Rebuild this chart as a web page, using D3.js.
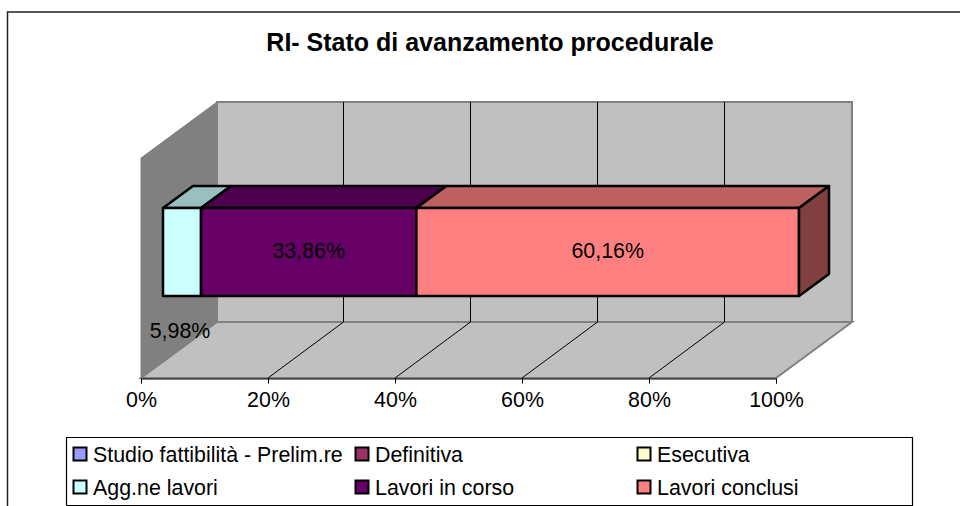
<!DOCTYPE html>
<html>
<head>
<meta charset="utf-8">
<script src="https://cdn.jsdelivr.net/npm/d3@7"></script>
<style>
  html, body { margin: 0; padding: 0; background: #fff; }
  text { font-family: "Liberation Sans", Arial, sans-serif; fill: #000; }
</style>
</head>
<body>
<div id="chart"></div>
<script>
const chartTitle = "RI- Stato di avanzamento procedurale";
const seriesNames = ["Studio fattibilità - Prelim.re", "Definitiva", "Esecutiva", "Agg.ne lavori", "Lavori in corso", "Lavori conclusi"];
const seriesValues = [0, 0, 0, 5.98, 33.86, 60.16];
const seriesLabels = ["", "", "", "5,98%", "33,86%", "60,16%"];
const seriesColors = ["#9999ff", "#993366", "#ffffcc", "#ccffff", "#660066", "#ff8080"];
const tickValues = [0, 20, 40, 60, 80, 100];

const labelSize = 21.4;

const svg = d3.select("#chart").append("svg")
    .attr("width", 960)
    .attr("height", 506)
    .style("display", "block");

// frame: only top and left are inside the picture
svg.append("path")
    .attr("d", "M7.5,506V12H960")
    .attr("fill", "none")
    .attr("stroke", "#222")
    .attr("stroke-width", 1.5);

svg.append("text")
    .attr("x", 490)
    .attr("y", 51)
    .attr("text-anchor", "middle")
    .attr("font-size", 25)
    .attr("font-weight", "bold")
    .text(chartTitle);

// front plane of the floor, and the depth offsets of the fake 3d
const x = d3.scaleLinear().domain([0, 100]).range([141, 776]);
const floorY = 378;
const wallH = 220;
const depth = { dx: 76, dy: -56 };
const barShift = { dx: 22, dy: -16 };
const barDepth = { dx: 30, dy: -22 };
const barFront = d3.scaleLinear().domain([0, 100]).range([x(0) + barShift.dx, x(100) + barShift.dx + 1]);
const barTop = 208;
const barBottom = 296;

const poly = pts => "M" + pts.map(p => p.join(",")).join("L") + "Z";

// left wall
svg.append("path")
    .attr("d", poly([[x(0), floorY], [x(0), floorY - wallH], [x(0) + depth.dx, floorY - wallH + depth.dy], [x(0) + depth.dx, floorY + depth.dy]]))
    .attr("fill", "#808080")
    .attr("stroke", "#808080");

// back wall
svg.append("rect")
    .attr("x", x(0) + depth.dx)
    .attr("y", floorY - wallH + depth.dy)
    .attr("width", x(100) - x(0))
    .attr("height", wallH)
    .attr("fill", "#c0c0c0")
    .attr("stroke", "#808080")
    .attr("stroke-width", 2);

// floor
svg.append("path")
    .attr("d", poly([[x(0), floorY], [x(100), floorY], [x(100) + depth.dx, floorY + depth.dy], [x(0) + depth.dx, floorY + depth.dy]]))
    .attr("fill", "#c0c0c0")
    .attr("stroke", "#808080")
    .attr("stroke-width", 2);

// gridlines on back wall and floor
const inner = tickValues.filter(d => d > 0 && d < 100);
svg.append("g").selectAll("line")
    .data(inner)
    .enter()
    .append("line")
    .attr("x1", d => x(d) + depth.dx - 0.5)
    .attr("x2", d => x(d) + depth.dx - 0.5)
    .attr("y1", floorY - wallH + depth.dy)
    .attr("y2", floorY + depth.dy)
    .attr("stroke", "#000")
    .attr("stroke-width", 1);
svg.append("g").selectAll("line")
    .data(inner)
    .enter()
    .append("line")
    .attr("x1", d => x(d))
    .attr("x2", d => x(d) + depth.dx - 0.5)
    .attr("y1", floorY)
    .attr("y2", floorY + depth.dy)
    .attr("stroke", "#000")
    .attr("stroke-width", 1);

// x axis
const axis = svg.append("g")
    .attr("transform", "translate(0," + (floorY + 0.5) + ")")
    .call(d3.axisBottom(x).tickValues(tickValues).tickSize(5).tickPadding(8).tickFormat(d => d + "%"));
axis.selectAll("text")
    .attr("font-size", labelSize)
    .attr("font-family", "Liberation Sans, Arial, sans-serif");
axis.select(".domain").attr("stroke", "#000");

// stacked bar
let running = 0;
const segments = seriesValues.map(function(v, i) {
    const s = { start: running, end: running + v, color: seriesColors[i], label: seriesLabels[i] };
    running += v;
    return s;
}).filter(s => s.end > s.start);

const barGroup = svg.append("g")
    .attr("stroke", "#000")
    .attr("stroke-width", 2.5)
    .attr("stroke-linejoin", "round");

segments.forEach(function(s) {
    const x0 = barFront(s.start);
    const x1 = barFront(s.end);
    const base = d3.color(s.color);
    // top face
    barGroup.append("path")
        .attr("d", poly([[x0, barTop], [x1, barTop], [x1 + barDepth.dx, barTop + barDepth.dy], [x0 + barDepth.dx, barTop + barDepth.dy]]))
        .attr("fill", d3.rgb(base.r * 0.75, base.g * 0.75, base.b * 0.75));
    // front face
    barGroup.append("rect")
        .attr("x", x0)
        .attr("y", barTop)
        .attr("width", x1 - x0)
        .attr("height", barBottom - barTop)
        .attr("fill", s.color);
});

// end cap of the last segment
const endX = barFront(100);
barGroup.append("path")
    .attr("d", poly([[endX, barTop], [endX + barDepth.dx, barTop + barDepth.dy], [endX + barDepth.dx, barBottom + barDepth.dy], [endX, barBottom]]))
    .attr("fill", d3.rgb(255 * 0.5, 128 * 0.5, 128 * 0.5));

// data labels, the small one sits below the bar
svg.append("g").selectAll("text")
    .data(segments)
    .enter()
    .append("text")
    .attr("x", (d, i) => i === 0 ? 180 : barFront((d.start + d.end) / 2))
    .attr("y", (d, i) => i === 0 ? 338 : 258)
    .attr("text-anchor", "middle")
    .attr("font-size", labelSize)
    .text(d => d.label);

// legend
const legendX = [72, 354, 636];
const legendY = [453.5, 486.5];
svg.append("path")
    .attr("d", "M66.5,505.5V437.5H912.5V506M66.5,505.5H912.5")
    .attr("fill", "#fff")
    .attr("stroke", "#000")
    .attr("stroke-width", 1.2);

const legend = svg.append("g").selectAll("g")
    .data(seriesNames)
    .enter()
    .append("g")
    .attr("transform", (d, i) => "translate(" + legendX[i % 3] + "," + legendY[Math.floor(i / 3)] + ")");
legend.append("rect")
    .attr("x", 1.5)
    .attr("y", -6)
    .attr("width", 13)
    .attr("height", 13)
    .attr("fill", (d, i) => seriesColors[i])
    .attr("stroke", "#000")
    .attr("stroke-width", 2);
legend.append("text")
    .attr("x", 21)
    .attr("y", 8)
    .attr("font-size", labelSize)
    .text(d => d);
</script>
</body>
</html>
